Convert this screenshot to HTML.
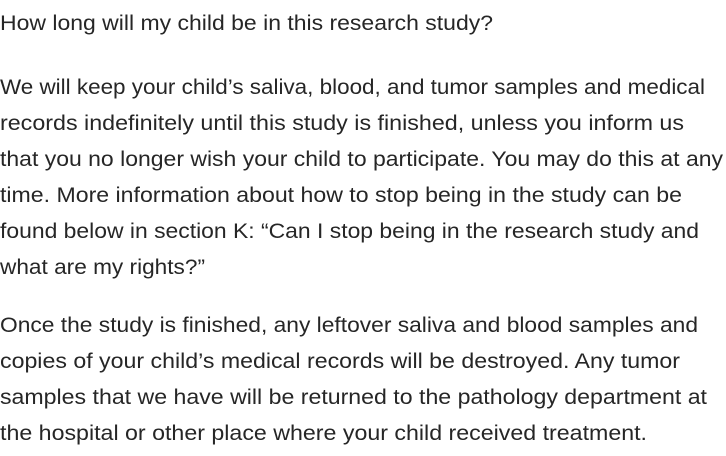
<!DOCTYPE html>
<html>
<head>
<meta charset="utf-8">
<style>
  html, body { margin:0; padding:0; background:#fff; }
  body { width:726px; height:451px; overflow:hidden; }
  svg text { font-family: "Liberation Sans", sans-serif; font-size:21px; fill:#262626; }
</style>
</head>
<body>
<svg width="726" height="451" viewBox="0 0 726 451">
  <text x="0" y="30" textLength="493" lengthAdjust="spacingAndGlyphs">How long will my child be in this research study?</text>
  <g>
    <text x="0" y="94" textLength="705" lengthAdjust="spacingAndGlyphs">We will keep your child’s saliva, blood, and tumor samples and medical</text>
    <text x="0" y="130" textLength="684" lengthAdjust="spacingAndGlyphs">records indefinitely until this study is finished, unless you inform us</text>
    <text x="0" y="166" textLength="723" lengthAdjust="spacingAndGlyphs">that you no longer wish your child to participate. You may do this at any</text>
    <text x="0" y="202" textLength="682" lengthAdjust="spacingAndGlyphs">time. More information about how to stop being in the study can be</text>
    <text x="0" y="238" textLength="699" lengthAdjust="spacingAndGlyphs">found below in section K: “Can I stop being in the research study and</text>
    <text x="0" y="274" textLength="205" lengthAdjust="spacingAndGlyphs">what are my rights?”</text>
  </g>
  <g>
    <text x="0" y="332" textLength="698" lengthAdjust="spacingAndGlyphs">Once the study is finished, any leftover saliva and blood samples and</text>
    <text x="0" y="368" textLength="680" lengthAdjust="spacingAndGlyphs">copies of your child’s medical records will be destroyed. Any tumor</text>
    <text x="0" y="404" textLength="707" lengthAdjust="spacingAndGlyphs">samples that we have will be returned to the pathology department at</text>
    <text x="0" y="440" textLength="647" lengthAdjust="spacingAndGlyphs">the hospital or other place where your child received treatment.</text>
  </g>
</svg>
</body>
</html>
